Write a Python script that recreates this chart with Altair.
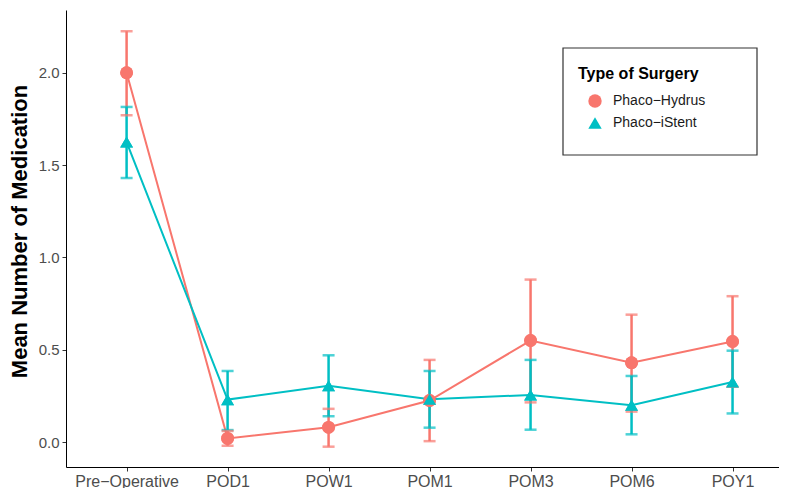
import altair as alt
import pandas as pd

categories = ["Pre−Operative", "POD1", "POW1", "POM1", "POM3", "POM6", "POY1"]
groups = ["Phaco−Hydrus", "Phaco−iStent"]
colors = ["#F8766D", "#00BFC4"]
shapes = ["circle", "triangle-up"]

hydrus_mean = [2.00, 0.02, 0.08, 0.225, 0.55, 0.43, 0.545]
hydrus_low = [1.77, -0.02, -0.025, 0.005, 0.215, 0.165, 0.30]
hydrus_high = [2.225, 0.06, 0.18, 0.445, 0.88, 0.69, 0.79]

istent_mean = [1.625, 0.23, 0.305, 0.232, 0.255, 0.20, 0.325]
istent_low = [1.43, 0.065, 0.14, 0.078, 0.067, 0.042, 0.155]
istent_high = [1.815, 0.385, 0.47, 0.385, 0.445, 0.358, 0.495]

rows = []
for g, m, lo, hi in [(groups[0], hydrus_mean, hydrus_low, hydrus_high),
                     (groups[1], istent_mean, istent_low, istent_high)]:
    for i, c in enumerate(categories):
        rows.append({"idx": i, "time": c, "group": g, "mean": m[i], "low": lo[i], "high": hi[i]})
df = pd.DataFrame(rows)

label_arr = "[" + ",".join("'" + c + "'" for c in categories) + "]"

x_enc = alt.X("idx:Q",
              scale=alt.Scale(domain=[-0.6, 6.46], nice=False, zero=False),
              axis=alt.Axis(title=None, values=list(range(len(categories))),
                            labelExpr=label_arr + "[datum.value]", labelFontSize=16,
                            labelPadding=2))
y_scale = alt.Scale(domain=[-0.135, 2.34], nice=False, zero=False)
y_axis = alt.Axis(title="Mean Number of Medication", values=[0, 0.5, 1.0, 1.5, 2.0],
                  format=".1f", labelFontSize=15, labelPadding=3, titleY=221)
color_scale = alt.Scale(domain=groups, range=colors)
shape_scale = alt.Scale(domain=groups, range=shapes)

legend = alt.Legend(title="Type of Surgery", orient="none", legendX=512, legendY=56)

points = alt.Chart(df).mark_point(filled=True, opacity=1, size=165).encode(
    x=x_enc,
    y=alt.Y("mean:Q", scale=y_scale, axis=y_axis),
    color=alt.Color("group:N", scale=color_scale, legend=legend),
    shape=alt.Shape("group:N", scale=shape_scale, legend=legend),
)

base = alt.Chart(df).encode(
    x=x_enc,
    color=alt.Color("group:N", scale=color_scale, legend=legend),
)

lines = base.mark_line(strokeWidth=2).encode(y=alt.Y("mean:Q", scale=y_scale))
bars = base.mark_rule(strokeWidth=2.5).encode(y=alt.Y("low:Q", scale=y_scale), y2="high:Q")
cap_lo = base.mark_tick(orient="horizontal", size=12, thickness=2.5).encode(y=alt.Y("low:Q", scale=y_scale))
cap_hi = base.mark_tick(orient="horizontal", size=12, thickness=2.5).encode(y=alt.Y("high:Q", scale=y_scale))

box = alt.Chart(pd.DataFrame({"a": [0]})).mark_rect(
    fill="white", stroke="#333333", strokeWidth=1.2
).encode(x=alt.value(497), x2=alt.value(691), y=alt.value(38), y2=alt.value(145))

chart = alt.layer(points, box, lines, bars, cap_lo, cap_hi, points).properties(
    width=713, height=457,
    padding={"left": 0, "top": 2, "right": 0, "bottom": 0},
).configure_view(stroke=None).configure_axis(
    grid=False, domainColor="#000000", domainWidth=1, tickColor="#333333", tickSize=4,
    labelColor="#4D4D4D", labelFont="Liberation Sans",
    titleFont="Liberation Sans", titleFontSize=22, titleFontWeight="bold", titleColor="#000000",
    titlePadding=7,
).configure_legend(
    titleFont="Liberation Sans", titleFontSize=16, titleFontWeight="bold", titleColor="#000000",
    labelFont="Liberation Sans", labelFontSize=14, labelColor="#1a1a1a",
    symbolSize=180, symbolStrokeWidth=0, titlePadding=12, rowPadding=8,
    symbolOffset=10, labelOffset=11,
)

chart.save("out.html", embed_options={"renderer": "svg", "actions": False})
